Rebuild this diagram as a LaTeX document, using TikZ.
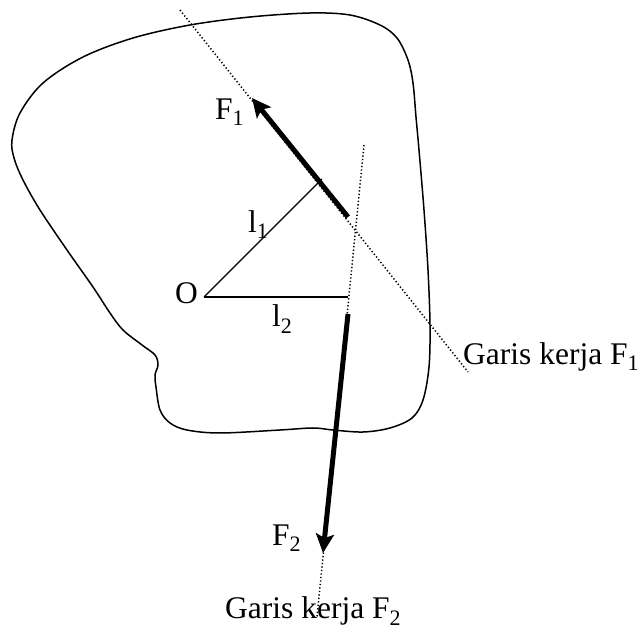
\documentclass[tikz,border=0pt]{standalone}
\usepackage{fontspec}
\setmainfont{Liberation Serif}
\usetikzlibrary{arrows.meta}
\tikzset{
  lbl/.style={inner sep=0pt, anchor=base west, font=\fontsize{31.5}{35}\selectfont},
  outline/.style={line width=1.5pt},
  arm/.style={line width=1.3pt},
  actline/.style={line width=1.5pt, dash pattern=on 1.3pt off 2.2pt},
  force/.style={line width=5pt, -{Stealth[length=19pt,width=18pt,inset=4pt]}}
}
\begin{document}
\begin{tikzpicture}[x=1pt,y=-1pt]
\useasboundingbox (0,0) rectangle (641,631);
% body outline
\draw[outline] plot[smooth cycle, tension=0.55] coordinates {
 (12,140) (20,113) (43,83) (83,57) (133,38) (190,25) (250,17) (310,13) (350,15)
 (380,25) (397,38) (408,60) (413,83) (416,117) (419,150) (424,210) (428,270)
 (430,325) (429,367) (423,400) (412,418) (390,428) (363,432) (333,430) (313,428)
 (280,430) (220,433) (187,430) (170,423) (160,410) (156,387) (155,375) (158,365)
 (155,355) (142,345) (123,330) (110,313) (93,287) (67,250) (40,210) (23,180) (14,158)};
% points
\coordinate (O) at (204,297);
\coordinate (A1) at (180,10);
\coordinate (B1) at (468,372);
\coordinate (A2) at (364,145);
\coordinate (B2) at (317,617);
\coordinate (P1) at (322,179);
\coordinate (P2) at (348,297);
\coordinate (S1) at (348,217);
\coordinate (T1) at (252,98);
\coordinate (S2) at (348,314);
\coordinate (T2) at (323,553);
% lines of action
\draw[actline] (A1) -- (B1);
\draw[actline] (A2) -- (B2);
% arms
\draw[arm] (O) -- (P1);
\draw[arm] (O) -- (P2);
% forces
\draw[force] (S1) -- (T1);
\draw[force] (S2) -- (T2);
% labels
\node[lbl] (lO) at (175,304) {O};
\node[lbl] (lF1) at (215,120) {F\textsubscript{1}};
\node[lbl] (lF2) at (272,545) {F\textsubscript{2}};
\node[lbl] (ll1) at (248,233) {l\textsubscript{1}};
\node[lbl] (ll2) at (272,327) {l\textsubscript{2}};
\node[lbl] (g1) at (463,365) {Garis kerja F\textsubscript{1}};
\node[lbl] (g2) at (225,619) {Garis kerja F\textsubscript{2}};
\end{tikzpicture}
\end{document}
